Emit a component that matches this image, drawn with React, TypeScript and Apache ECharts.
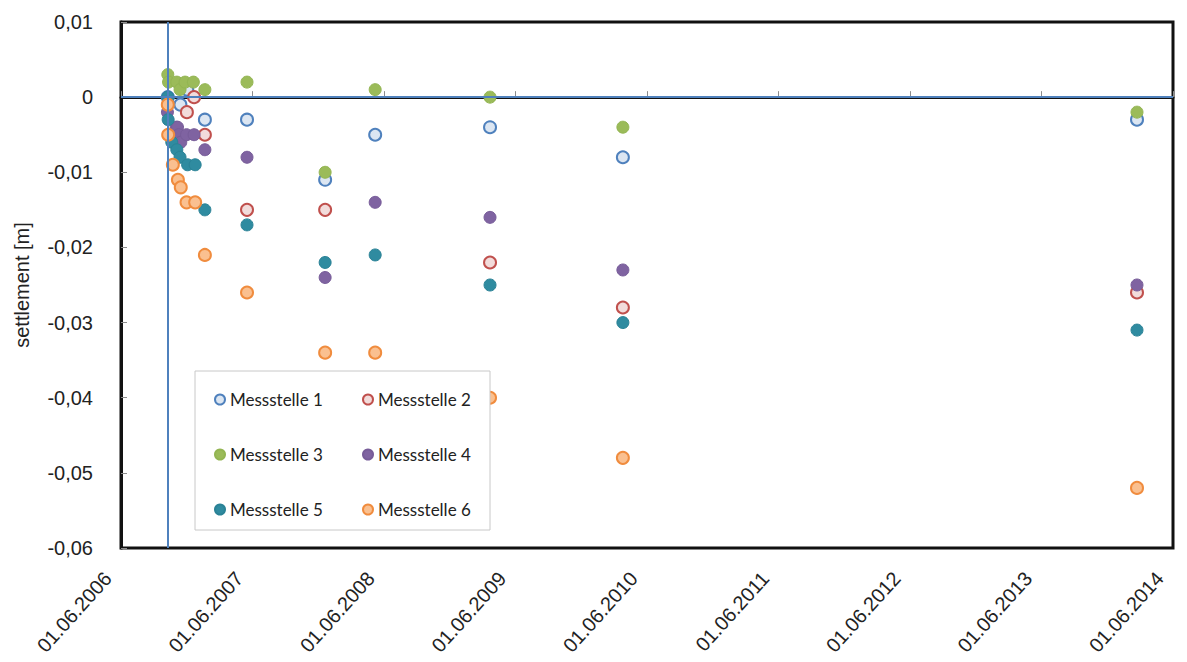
import React, { useEffect, useRef } from "react";
import * as echarts from "echarts";

// ---- data ----
const seriesNames = ["Messstelle 1", "Messstelle 2", "Messstelle 3", "Messstelle 4", "Messstelle 5", "Messstelle 6"];

const messstelle1: [string, number][] = [
  ["2006-10-09", 0.0], ["2006-11-13", -0.001], ["2006-12-02", 0.001], ["2007-01-20", -0.003],
  ["2007-05-17", -0.003], ["2007-12-20", -0.011], ["2008-05-07", -0.005], ["2009-03-22", -0.004],
  ["2010-03-26", -0.008], ["2014-02-21", -0.003],
];
const messstelle2: [string, number][] = [
  ["2006-12-01", -0.002], ["2006-12-21", 0.0], ["2007-01-20", -0.005], ["2007-05-17", -0.015],
  ["2007-12-20", -0.015], ["2009-03-22", -0.022], ["2010-03-26", -0.028],
  ["2014-02-21", -0.026],
];
const messstelle3: [string, number][] = [
  ["2006-10-09", 0.003], ["2006-10-11", 0.002], ["2006-11-03", 0.002], ["2006-11-12", 0.001],
  ["2006-11-26", 0.002], ["2006-12-19", 0.002], ["2007-01-20", 0.001], ["2007-05-17", 0.002],
  ["2007-12-20", -0.01], ["2008-05-07", 0.001], ["2009-03-22", 0.0], ["2010-03-26", -0.004],
  ["2014-02-21", -0.002],
];
const messstelle4: [string, number][] = [
  ["2006-10-08", -0.002], ["2006-11-01", -0.004], ["2006-11-05", -0.004], ["2006-11-08", -0.005],
  ["2006-11-14", -0.006], ["2006-11-30", -0.005], ["2006-12-21", -0.005], ["2007-01-20", -0.007],
  ["2007-05-17", -0.008], ["2007-12-20", -0.024], ["2008-05-07", -0.014], ["2009-03-22", -0.016],
  ["2010-03-26", -0.023], ["2014-02-21", -0.025],
];
const messstelle5: [string, number][] = [
  ["2006-10-09", 0.0], ["2006-10-10", -0.003], ["2006-10-20", -0.006], ["2006-11-03", -0.007],
  ["2006-11-12", -0.008], ["2006-12-03", -0.009], ["2006-12-24", -0.009], ["2007-01-20", -0.015],
  ["2007-05-17", -0.017], ["2007-12-20", -0.022], ["2008-05-07", -0.021], ["2009-03-22", -0.025],
  ["2010-03-26", -0.03], ["2014-02-21", -0.031],
];
const messstelle6: [string, number][] = [
  ["2006-10-09", -0.001], ["2006-10-10", -0.005], ["2006-10-23", -0.009], ["2006-11-06", -0.011],
  ["2006-11-14", -0.012], ["2006-11-30", -0.014], ["2006-12-24", -0.014], ["2007-01-20", -0.021],
  ["2007-05-17", -0.026], ["2007-12-20", -0.034], ["2008-05-07", -0.034], ["2009-03-22", -0.04],
  ["2010-03-26", -0.048], ["2014-02-21", -0.052],
];

const axisStartDate = "2006-06-01";
const axisEndDate = "2014-06-01";
const yearTicks = ["01.06.2006", "01.06.2007", "01.06.2008", "01.06.2009", "01.06.2010", "01.06.2011", "01.06.2012", "01.06.2013", "01.06.2014"];
const referenceDate = "2006-10-09";
const yMin = -0.06;
const yMax = 0.01;
const yStep = 0.01;

// ---- helpers ----
const utc = (s: string) => {
  const [y, m, d] = s.split("-").map(Number);
  return Date.UTC(y, m - 1, d);
};
const START = utc(axisStartDate);
const toDay = (s: string) => (utc(s) - START) / 86400000;
const END_DAY = toDay(axisEndDate);
const YEAR_STEP = END_DAY / (yearTicks.length - 1);

const styles = [
  { fill: "#dce6f2", border: "#4f81bd", bw: 2 },
  { fill: "#f2dcdb", border: "#c0504d", bw: 2 },
  { fill: "#9bbb59", border: "#93b552", bw: 1 },
  { fill: "#7f63a1", border: "#775c99", bw: 1 },
  { fill: "#2f8ba0", border: "#2a8296", bw: 1 },
  { fill: "#fac090", border: "#f08c3e", bw: 2 },
];
const allData = [messstelle1, messstelle2, messstelle3, messstelle4, messstelle5, messstelle6];

const legendPos = [
  { left: 214, top: 391 },
  { left: 362, top: 391 },
  { left: 214, top: 446 },
  { left: 362, top: 446 },
  { left: 214, top: 501 },
  { left: 362, top: 501 },
];

export default function App() {
  const ref = useRef<HTMLDivElement>(null);
  useEffect(() => {
    if (!ref.current) return;
    const chart = echarts.init(ref.current, null, { renderer: "svg" });
    const series: any[] = allData.map((d, i) => ({
      name: seriesNames[i],
      type: "scatter",
      symbol: "circle",
      symbolSize: 12,
      data: d.map(([date, v]) => [toDay(date), v]),
      itemStyle: { color: styles[i].fill, borderColor: styles[i].border, borderWidth: styles[i].bw, opacity: 1 },
      emphasis: { disabled: true },
      z: 2 + i * 0.01,
    }));
    series.push({
      type: "scatter",
      data: [],
      silent: true,
      z: 5,
      markLine: {
        silent: true,
        symbol: ["none", "none"],
        label: { show: false },
        lineStyle: { color: "#4f81bd", width: 2, type: "solid" },
        emphasis: { disabled: true },
        data: [{ xAxis: toDay(referenceDate) }, { yAxis: 0 }],
      },
    });

    chart.setOption({
      animation: false,
      backgroundColor: "#ffffff",
      grid: { left: 121, right: 14, top: 22, bottom: 114, show: true, borderColor: "#111", borderWidth: 3, backgroundColor: "transparent" },
      xAxis: {
        type: "value",
        min: 0,
        max: END_DAY,
        interval: YEAR_STEP,
        axisLine: { show: true, lineStyle: { color: "#111", width: 3 } },
        axisTick: { show: true, inside: true, length: 6, lineStyle: { color: "#8c8c8c", width: 1 } },
        splitLine: { show: false },
        axisLabel: {
          rotate: 48,
          margin: 12,
          padding: [0, 20, 0, 0],
          fontFamily: "Liberation Sans",
          fontSize: 20,
          color: "#222",
          formatter: (v: number) => yearTicks[Math.round(v / YEAR_STEP)] ?? "",
        },
      },
      yAxis: {
        type: "value",
        min: yMin,
        max: yMax,
        interval: yStep,
        name: "settlement [m]",
        nameLocation: "middle",
        nameGap: 89,
        nameTextStyle: { fontFamily: "Liberation Sans", fontSize: 20, color: "#222" },
        axisLine: { show: true, lineStyle: { color: "#111", width: 3 } },
        axisTick: { show: true, inside: true, length: 6, lineStyle: { color: "#8c8c8c", width: 1 } },
        splitLine: { show: false },
        axisLabel: {
          margin: 28,
          fontFamily: "Liberation Sans",
          fontSize: 20,
          color: "#222",
          formatter: (v: number) => (Math.abs(v) < 1e-9 ? "0" : v.toFixed(2).replace(".", ",")),
        },
      },
      legend: seriesNames.map((n, i) => ({
        data: [n],
        left: legendPos[i].left,
        top: legendPos[i].top,
        icon: "circle",
        itemWidth: 10,
        itemHeight: 10,
        itemGap: 5,
        padding: 0,
        selectedMode: false,
        textStyle: { fontFamily: "Lato", fontSize: 17, color: "#222" },
        z: 6,
      })),
      graphic: [
        {
          type: "rect",
          z: 4,
          shape: { x: 195, y: 371, width: 295, height: 159 },
          style: { fill: "#ffffff", stroke: "#c8c8c8", lineWidth: 1 },
        },
      ],
      series,
    });
    return () => chart.dispose();
  }, []);
  return <div ref={ref} style={{ position: "absolute", left: 0, top: 0, width: 1187, height: 662 }} />;
}
